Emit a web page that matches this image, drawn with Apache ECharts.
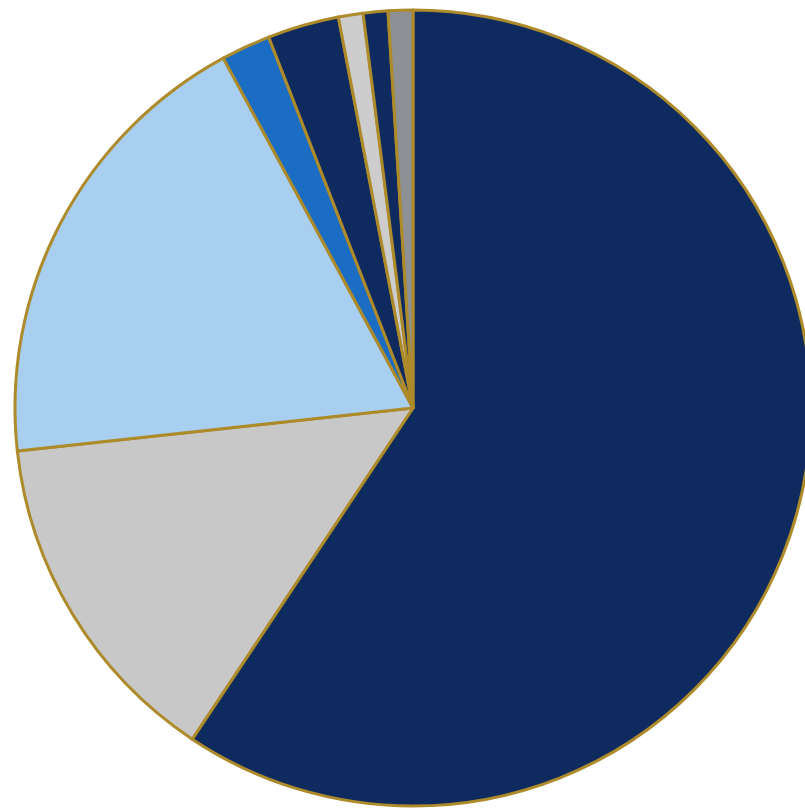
<!DOCTYPE html>
<html>
<head>
<meta charset="utf-8">
<script src="https://cdn.jsdelivr.net/npm/echarts@6/dist/echarts.min.js"></script>
<style>html,body{margin:0;padding:0;background:#fff;}#chart{width:805px;height:809px;}</style>
</head>
<body>
<div id="chart"></div>
<script>
const categories = ['A', 'B', 'C', 'D', 'E', 'F', 'G', 'H'];
const values = [59.3, 13.9, 18.8, 2.0, 2.9, 1.0, 1.0, 1.0];
const colors = ['#0e2a5e', '#c8c8c8', '#a9cff0', '#1a6dc2', '#0e2a5e', '#cdcdcd', '#0e2a5e', '#8d9196'];

const chart = echarts.init(document.getElementById('chart'));
chart.setOption({
  animation: false,
  backgroundColor: '#ffffff',
  series: [{
    type: 'pie',
    center: [413, 408],
    radius: 398,
    startAngle: 90,
    clockwise: true,
    label: { show: false },
    labelLine: { show: false },
    emphasis: { disabled: true },
    itemStyle: { borderColor: '#ad8a2a', borderWidth: 3 },
    data: categories.map((c, i) => ({ name: c, value: values[i], itemStyle: { color: colors[i] } }))
  }]
});
</script>
</body>
</html>
